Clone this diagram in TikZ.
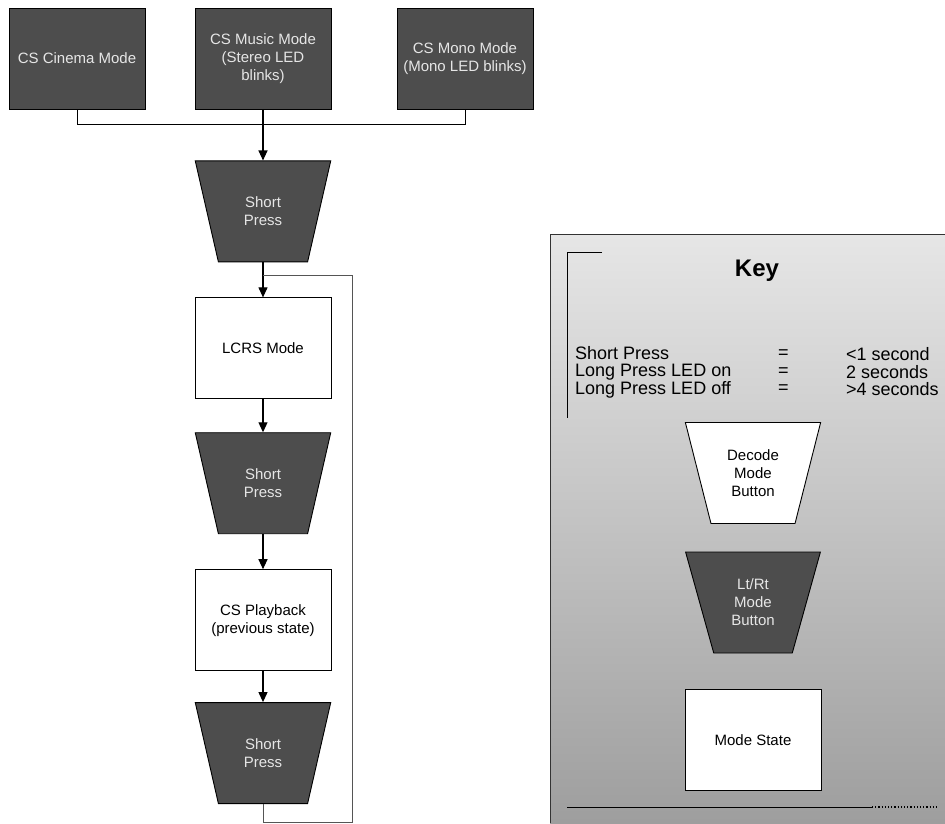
\documentclass[tikz,border=0pt]{standalone}
\usepackage{fontspec}
\setmainfont{Liberation Sans}
\usetikzlibrary{positioning,shapes.geometric,arrows.meta}

\definecolor{modedark}{HTML}{4D4D4D}
\definecolor{modetext}{HTML}{E6E6E6}
\definecolor{keytop}{HTML}{E6E6E6}
\definecolor{keybottom}{HTML}{9E9E9E}
\definecolor{loopgray}{HTML}{555555}

\begin{document}
\begin{tikzpicture}[
x=1pt,y=-1pt,
mode/.style={
  draw=black,
  fill=modedark,
  text=modetext,
  line width=0.9pt,
  minimum width=136pt,
  minimum height=101pt,
  inner sep=2pt,
  align=center,
  font=\fontsize{15}{18}\selectfont
},
state/.style={
  mode,
  fill=white,
  text=black
},
press/.style={
  mode,
  trapezium,
  trapezium left angle=108.4,
  trapezium right angle=108.4,
  trapezium stretches=true
},
button/.style={
  press,
  fill=white,
  text=black
},
keytext/.style={
  anchor=west,
  inner sep=0pt,
  align=left,
  font=\fontsize{18}{17.5}\selectfont
},
flow/.style={
  -{Triangle[length=10pt,width=9pt]},
  line width=1.1pt
},
node distance=34pt
]
\useasboundingbox (0,0) rectangle (945,823);

% key panel
\shade[top color=keytop,bottom color=keybottom] (550,234) rectangle (945,823);
\draw[line width=0.9pt,black!80] (550,823) |- (945,234);
\draw[line width=0.8pt] (602,252) -| (567,418);
\draw[line width=0.8pt] (567,807) -- (872,807);
\draw[line width=1.2pt,dotted] (872,807) -- (938,807);

% start states
\node[mode] at (77,58.5) 
  (cinema) {CS Cinema Mode};
\node[mode] at (263,58.5) 
  (music) {CS Music Mode\\(Stereo LED\\blinks)};
\node[mode] at (465,58.5) 
  (mono) {CS Mono Mode\\(Mono LED blinks)};

% main loop
\node[press,below=51pt of music] 
  (press1) {Short\\Press};
\node[state,below=35pt of press1] 
  (lcrs) {LCRS Mode};
\node[press,below=33pt of lcrs] 
  (press2) {Short\\Press};
\node[state,below=35pt of press2] 
  (playback) {CS Playback\\(previous state)};
\node[press,below=31pt of playback] 
  (press3) {Short\\Press};

\coordinate (rejoin) at ([yshift=-13pt]press1.south);
\coordinate (loopfoot) at ([yshift=-18pt]press3.south);

\draw[line width=0.9pt] (cinema.south) -- ++(0,15) -| (mono.south);
\draw[flow] (music.south) -- (press1.north);
\draw[flow] (press1.south) -- (lcrs.north);
\draw[flow] (lcrs.south) -- (press2.north);
\draw[flow] (press2.south) -- (playback.north);
\draw[flow] (playback.south) -- (press3.north);
\draw[line width=0.9pt,loopgray] (press3.south) -- (loopfoot) -| ([xshift=89pt]rejoin) -- (rejoin);

% key contents
\node[font=\bfseries\fontsize{24}{28}\selectfont] at (757,271) 
  (keytitle) {Key};
\node[keytext] at (575,372) (pressnames) {Short Press\\Long Press LED on\\Long Press LED off};
\node[keytext] at (778,372) (equals) {=\\=\\=};
\node[keytext] at (846,372) (durations) {<1 second\\2 seconds\\>4 seconds};

\node[button] at (753,473) 
  (decode) {Decode\\Mode\\Button};
\node[press] at (753,602.5) 
  (ltrt) {Lt/Rt\\Mode\\Button};
\node[state] at (753,740) 
  (modestate) {Mode State};
\end{tikzpicture}
\end{document}
